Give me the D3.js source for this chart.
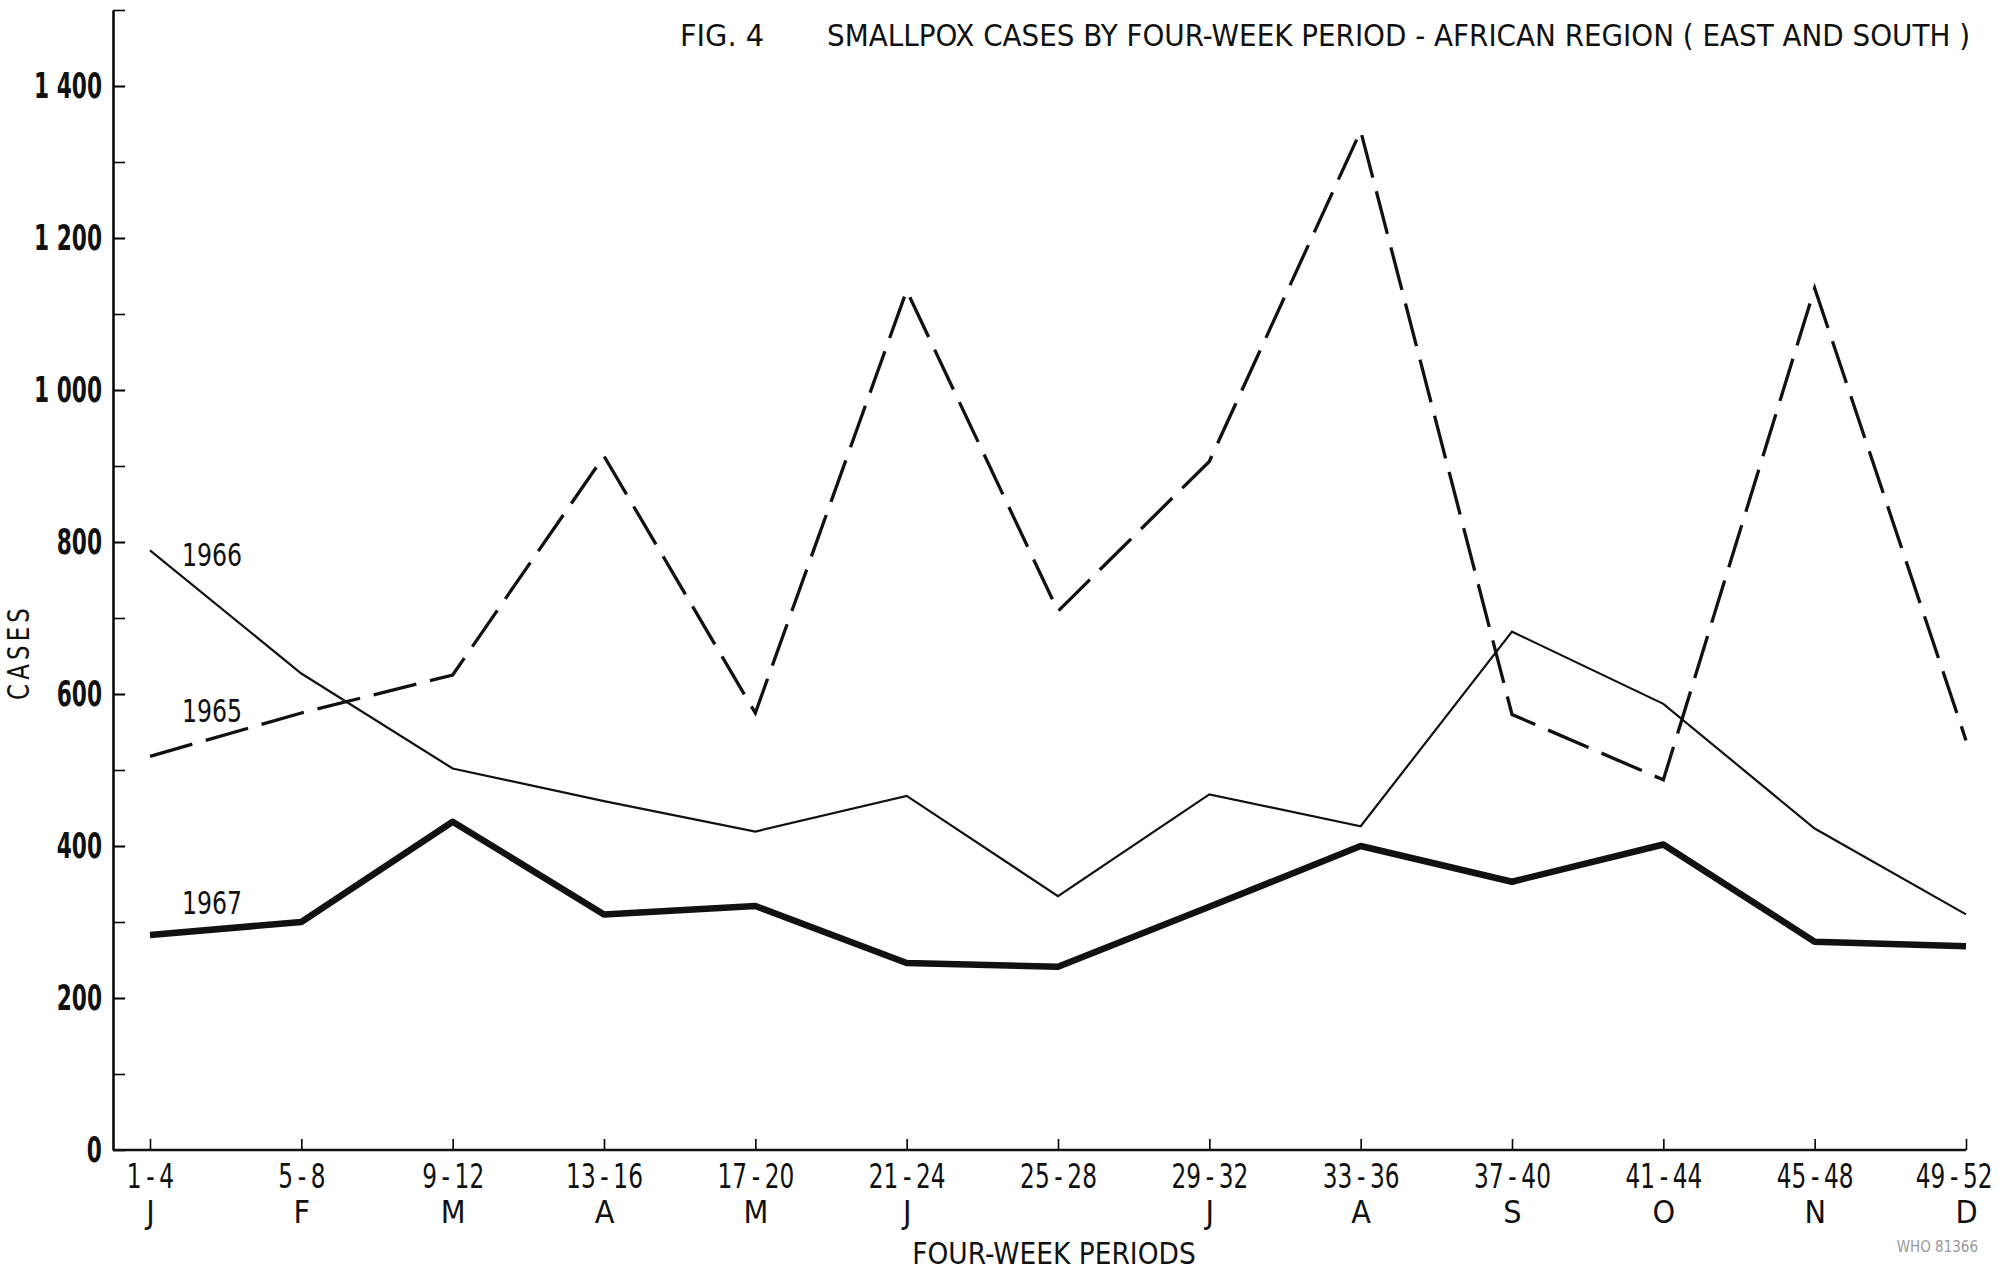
<!DOCTYPE html>
<html>
<head>
<meta charset="utf-8">
<script src="https://cdn.jsdelivr.net/npm/d3@7"></script>
<style>
  body { margin: 0; background: #fff; }
  svg { display: block; }
  .cond { font-family: "Liberation Sans Narrow", "DejaVu Sans Condensed", sans-serif; }
</style>
</head>
<body>
<svg id="chart"></svg>
<script>
// four-week periods and the month letters under them
const periods = ["1-4", "5-8", "9-12", "13-16", "17-20", "21-24", "25-28", "29-32", "33-36", "37-40", "41-44", "45-48", "49-52"];
const months = ["J", "F", "M", "A", "M", "J", "", "J", "A", "S", "O", "N", "D"];

// cases
const cases1965 = [518, 575, 625, 913, 575, 1131, 709, 906, 1341, 573, 487, 1134, 539];
const cases1966 = [789, 627, 502, 459, 419, 466, 334, 468, 426, 682, 587, 423, 310];
const cases1967 = [283, 300, 432, 310, 321, 246, 241, 320, 400, 353, 402, 274, 268];

const yLabelTicks = [0, 200, 400, 600, 800, 1000, 1200, 1400];
const yMinorTicks = d3.range(100, 1501, 100);

const W = 2008, H = 1270;
const svg = d3.select("#chart").attr("width", W).attr("height", H);

const axisX = 113, axisY = 1150;

const x = d3.scalePoint()
    .domain(periods)
    .range([150, 1966]);

const y = d3.scaleLinear()
    .domain([0, 1500])
    .range([axisY, 10]);

const fmt = d3.formatLocale({ decimal: ".", thousands: " ", grouping: [3], currency: ["", ""] }).format(",");

// squeeze glyphs horizontally to look like the narrow typeface of the print
function condense(sel, k) {
  sel.each(function() {
    const w = this.getComputedTextLength();
    if (w > 0) d3.select(this).attr("textLength", w * k).attr("lengthAdjust", "spacingAndGlyphs");
  });
}

// y axis: minor ticks every 100, labels every 200
svg.append("g")
    .attr("transform", `translate(${axisX},0)`)
    .call(d3.axisLeft(y).tickValues(yMinorTicks).tickSizeInner(-12).tickSizeOuter(0).tickFormat(""))
    .call(g => g.select(".domain").attr("stroke-width", 2.5))
    .call(g => g.selectAll(".tick line").attr("stroke-width", 1.6));

svg.append("g")
    .attr("transform", `translate(${axisX},0)`)
    .call(d3.axisLeft(y).tickValues(yLabelTicks).tickSizeInner(-12).tickSizeOuter(0).tickPadding(11).tickFormat(fmt))
    .call(g => g.select(".domain").remove())
    .call(g => g.selectAll(".tick line").attr("stroke-width", 1.6))
    .call(g => g.selectAll(".tick text")
        .attr("class", "cond")
        .attr("font-weight", 700)
        .attr("font-size", 35)
        .attr("fill", "#111")
        .call(condense, 0.69));

// x axis baseline
svg.append("line")
    .attr("x1", axisX).attr("x2", x(periods[periods.length - 1]))
    .attr("y1", axisY).attr("y2", axisY)
    .attr("stroke", "#111").attr("stroke-width", 2.5);

const last = periods.length - 1;
const xg = svg.append("g")
    .attr("transform", `translate(0,${axisY})`)
    .call(d3.axisBottom(x).tickSizeInner(-11).tickSizeOuter(0))
    .call(g => g.select(".domain").remove())
    .call(g => g.selectAll(".tick line").attr("stroke-width", 1.6))
    .call(g => g.selectAll(".tick text")
        .attr("class", "cond")
        .attr("y", 38)
        .attr("dy", null)
        .attr("x", (d, i) => i === last ? 26 : 0)
        .attr("text-anchor", (d, i) => i === last ? "end" : "middle")
        .attr("font-size", 34)
        .attr("fill", "#111")
        .text(d => d.replace("-", "\u2009-\u2009"))
        .call(condense, 0.76));

xg.selectAll(".tick")
    .append("text")
    .attr("class", "cond")
    .attr("y", 73)
    .attr("text-anchor", "middle")
    .attr("font-size", 32)
    .attr("fill", "#111")
    .text((d, i) => months[i]);

// lines
const line = d3.line()
    .x((d, i) => x(periods[i]))
    .y(d => y(d));

svg.append("path")
    .datum(cases1965)
    .attr("d", line)
    .attr("fill", "none")
    .attr("stroke", "#111")
    .attr("stroke-width", 3.3)
    .attr("stroke-dasharray", "44,14");

svg.append("path")
    .datum(cases1966)
    .attr("d", line)
    .attr("fill", "none")
    .attr("stroke", "#111")
    .attr("stroke-width", 2.2);

svg.append("path")
    .datum(cases1967)
    .attr("d", line)
    .attr("fill", "none")
    .attr("stroke", "#111")
    .attr("stroke-width", 6.5)
    .attr("stroke-linejoin", "round");

// series labels (value at the text baseline)
const seriesLabels = [
  { text: "1966", v: 768 },
  { text: "1965", v: 563 },
  { text: "1967", v: 310 }
];
svg.selectAll(".slabel")
    .data(seriesLabels)
    .join("text")
    .attr("class", "cond slabel")
    .attr("x", 182)
    .attr("y", d => y(d.v))
    .attr("font-size", 32)
    .attr("fill", "#111")
    .text(d => d.text)
    .call(condense, 0.82);

// titles
svg.append("text")
    .attr("class", "cond")
    .attr("x", 680).attr("y", 46)
    .attr("font-size", 30)
    .attr("fill", "#111")
    .attr("textLength", 84)
    .attr("lengthAdjust", "spacingAndGlyphs")
    .text("FIG. 4");

svg.append("text")
    .attr("class", "cond")
    .attr("x", 827).attr("y", 46)
    .attr("font-size", 31)
    .attr("fill", "#111")
    .attr("textLength", 1143)
    .attr("lengthAdjust", "spacingAndGlyphs")
    .text("SMALLPOX CASES BY FOUR-WEEK PERIOD - AFRICAN REGION ( EAST AND SOUTH )");

svg.append("text")
    .attr("class", "cond")
    .attr("transform", "translate(29,652) rotate(-90)")
    .attr("text-anchor", "middle")
    .attr("font-size", 30)
    .attr("letter-spacing", 5)
    .attr("fill", "#111")
    .attr("textLength", 96)
    .attr("lengthAdjust", "spacingAndGlyphs")
    .text("CASES");

svg.append("text")
    .attr("class", "cond")
    .attr("x", 1054).attr("y", 1264)
    .attr("text-anchor", "middle")
    .attr("font-size", 31)
    .attr("fill", "#111")
    .text("FOUR-WEEK PERIODS")
    .call(condense, 0.95);

svg.append("text")
    .attr("class", "cond")
    .attr("x", 1978).attr("y", 1252)
    .attr("text-anchor", "end")
    .attr("font-size", 15)
    .attr("fill", "#999")
    .text("WHO 81366");
</script>
</body>
</html>
